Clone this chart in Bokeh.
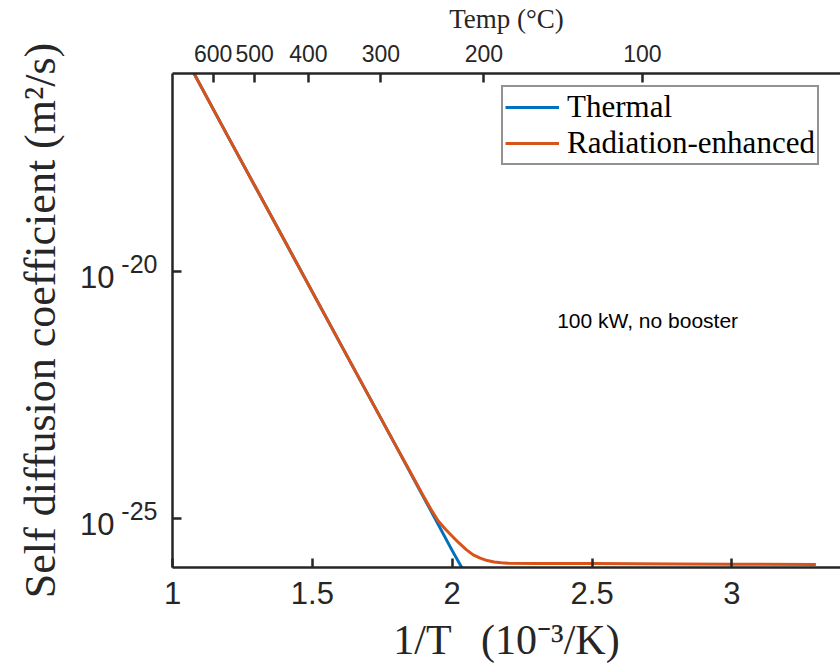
from bokeh.plotting import figure
from bokeh.models import (LinearAxis, LogAxis, FixedTicker, Range1d, Label, Legend, LegendItem,
                          CustomJSTickFormatter)
from bokeh.embed import file_html
from bokeh.resources import INLINE

# ---------------- data ----------------
# x: 1/T in 10^-3 / K ; D in m^2/s
thermal_x = [1.077, 1.2, 1.4, 1.6, 1.8, 1.9, 2.0, 2.034]
thermal_D = [1.0e-16, 5.1e-18, 4.2e-20, 3.4e-22, 2.8e-24, 2.5e-25, 2.2e-26, 1.0e-26]

rad_x = [1.077, 1.2, 1.4, 1.6, 1.8, 1.85, 1.9, 1.925, 1.95, 1.975, 2.0, 2.025, 2.05,
         2.075, 2.1, 2.125, 2.15, 2.175, 2.2, 2.3, 2.5, 2.8, 3.0, 3.3]
rad_D = [1.0e-16, 5.1e-18, 4.2e-20, 3.4e-22, 2.8e-24, 8.6e-25, 2.6e-25, 1.48e-25,
         8.7e-26, 6.0e-26, 4.3e-26, 3.1e-26, 2.3e-26, 1.8e-26, 1.55e-26, 1.38e-26,
         1.29e-26, 1.245e-26, 1.22e-26, 1.21e-26, 1.2e-26, 1.18e-26, 1.17e-26, 1.15e-26]

x_ticks = [1, 1.5, 2, 2.5, 3]
y_ticks = [1e-20, 1e-25]
temps_c = [600, 500, 400, 300, 200, 100]

series_names = ["Thermal", "Radiation-enhanced"]
note_text = "100 kW, no booster"
x_label = "1/T\u2002\u2009(10\u207b\u00b3/K)"
y_label = "Self diffusion coefficient (m\u00b2/s)"
top_label = "Temp (\u00b0C)"

# ---------------- styles ----------------
BLUE = "#0072BD"
ORANGE = "#D95319"
AX = "#262626"
SANS = "Liberation Sans"
SERIF = "Liberation Serif"
SUP_RAISE = 10 ** 0.142    # visual raise of the exponent part of the y tick labels
BASE_DROP = 10 ** -0.121   # visual drop of the "10" part of the y tick labels

x0, x1 = 1.0, 3.388
p = figure(width=840, height=668,
           x_range=Range1d(x0, x1), y_range=Range1d(1e-26, 1e-16),
           y_axis_type="log", output_backend="svg", toolbar_location=None,
           min_border_left=172, min_border_right=0, min_border_top=73,
           min_border_bottom=101)
p.grid.visible = False
p.outline_line_color = None
p.background_fill_color = "white"
p.border_fill_color = "white"

def style_axis(ax, size):
    ax.axis_line_color = AX
    ax.axis_line_width = 2.5
    ax.major_tick_line_color = AX
    ax.major_tick_line_width = 2.5
    ax.major_tick_in = 9
    ax.major_tick_out = 0
    ax.minor_tick_in = 0
    ax.minor_tick_out = 0
    ax.minor_tick_line_color = None
    ax.major_label_text_font = SANS
    ax.major_label_text_font_size = size
    ax.major_label_text_color = AX
    ax.axis_label_text_font = SERIF
    ax.axis_label_text_font_style = "normal"
    ax.axis_label_text_color = AX

def hide_line(ax):
    ax.axis_line_color = None
    ax.major_tick_line_color = None
    ax.major_tick_in = 0
    ax.major_tick_out = 0

# bottom axis
xa = p.xaxis[0]
xa.ticker = FixedTicker(ticks=x_ticks, minor_ticks=[])
xa.formatter = CustomJSTickFormatter(code="return tick.toString();")
style_axis(xa, "31px")
xa.major_label_standoff = 14
xa.axis_label = x_label
xa.axis_label_text_font_size = "42px"
xa.axis_label_standoff = 10

# left axis: line + ticks
ya = p.yaxis[0]
ya.ticker = FixedTicker(ticks=y_ticks, minor_ticks=[])
ya.formatter = CustomJSTickFormatter(code="return '';")
style_axis(ya, "31px")
ya.major_label_standoff = 0

# left axis: exponent part of the labels
y_exp = LogAxis(ticker=FixedTicker(ticks=[t * SUP_RAISE for t in y_ticks], minor_ticks=[]),
                formatter=CustomJSTickFormatter(code="return Math.round(Math.log10(tick)).toString();"))
style_axis(y_exp, "25px")
hide_line(y_exp)
y_exp.major_label_standoff = 15
p.add_layout(y_exp, "left")

# left axis: base part of the labels + axis title
y_base = LogAxis(ticker=FixedTicker(ticks=[t * BASE_DROP for t in y_ticks], minor_ticks=[]),
                 formatter=CustomJSTickFormatter(code="return '10';"))
style_axis(y_base, "31px")
hide_line(y_base)
y_base.major_label_standoff = 4
y_base.axis_label = y_label
y_base.axis_label_text_font_size = "44px"
y_base.axis_label_standoff = 12
p.add_layout(y_base, "left")

# top axis: temperature in deg C
top = LinearAxis(ticker=FixedTicker(ticks=[1000.0 / (t + 273.15) for t in temps_c], minor_ticks=[]),
                 formatter=CustomJSTickFormatter(code="return Math.round(1000/tick - 273.15).toString();"))
style_axis(top, "23px")
top.major_label_standoff = 12
top.axis_label = top_label
top.axis_label_text_font_size = "27px"
top.axis_label_standoff = 8
p.add_layout(top, "above")

# ---------------- lines ----------------
r_th = p.line(thermal_x, thermal_D, line_color=BLUE, line_width=3, line_join="round")
r_rad = p.line(rad_x, rad_D, line_color=ORANGE, line_width=3, line_join="round")

legend = Legend(items=[LegendItem(label=series_names[0], renderers=[r_th]),
                       LegendItem(label=series_names[1], renderers=[r_rad])],
                location=(329, 402))
legend.label_text_font = SERIF
legend.label_text_font_size = "31px"
legend.label_text_line_height = 1.0
legend.label_text_color = "black"
legend.glyph_width = 54
legend.glyph_height = 30
legend.label_height = 30
legend.label_standoff = 8
legend.padding = 2
legend.spacing = -12
legend.margin = 0
legend.border_line_color = AX
legend.border_line_width = 2
legend.background_fill_color = "white"
legend.background_fill_alpha = 1.0
p.add_layout(legend, "center")

# ---------------- note ----------------
p.add_layout(Label(x=2.375, y=1e-21, text=note_text, text_align="left", text_baseline="middle",
                   text_font=SANS, text_font_size="21px", text_color="black"))

open("out.html", "w").write(file_html(p, INLINE))
